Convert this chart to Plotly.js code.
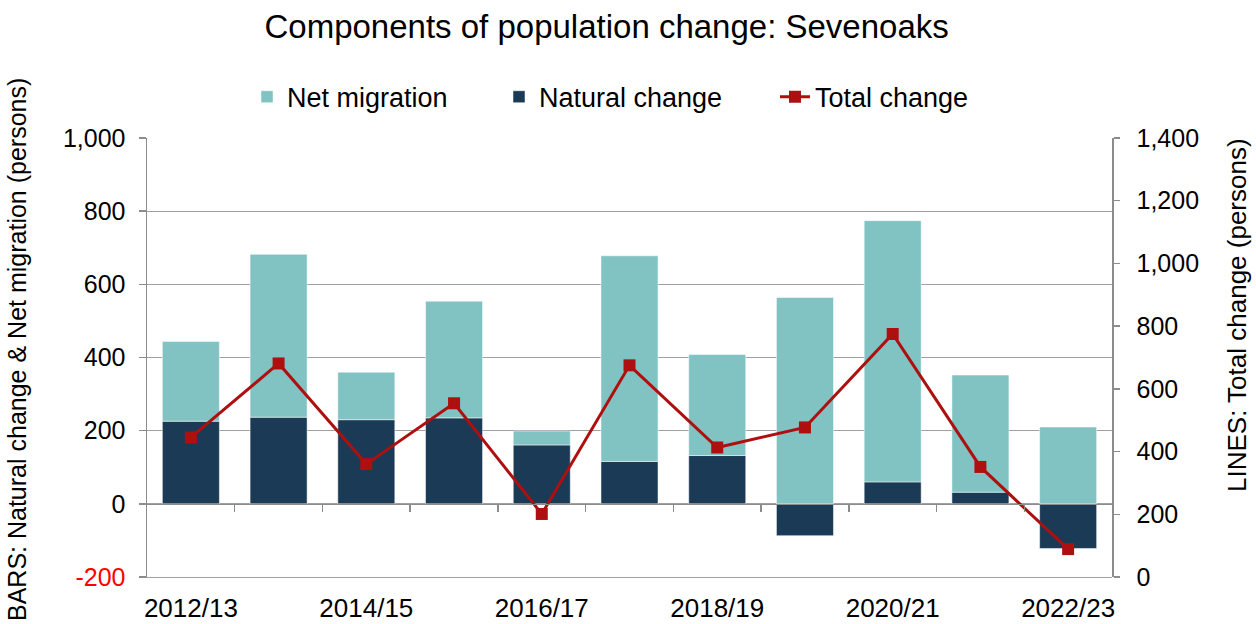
<!DOCTYPE html>
<html>
<head>
<meta charset="utf-8">
<script src="https://cdn.plot.ly/plotly-3.0.1.min.js"></script>
<style>html,body{margin:0;padding:0;background:#fff;}#chart{width:1256px;height:624px;}</style>
</head>
<body>
<div id="chart"></div>
<script>
const categories = ["2012/13","2013/14","2014/15","2015/16","2016/17","2017/18","2018/19","2019/20","2020/21","2021/22","2022/23"];
const naturalChange = [226, 237, 230, 235, 161, 116, 132, -87, 60, 32, -122];
const netMigration = [218, 445, 130, 319, 38, 562, 276, 564, 714, 320, 210];
const totalChange = [445, 681, 360, 554, 201, 675, 413, 477, 775, 351, 89];
const leftTicks = [-200, 0, 200, 400, 600, 800, 1000];
const rightTicks = [0, 200, 400, 600, 800, 1000, 1200, 1400];

const idx = categories.map((c, i) => i);
const labelIdx = idx.filter(i => i % 2 === 0);
const boundaries = idx.slice(1).map(i => i - 0.5);
const fmt = v => v.toLocaleString('en-US');
const leftText = leftTicks.map(v => v < 0 ? '<span style="fill:#ff0000">' + v + '</span>' : fmt(v));

const FONT = 'Liberation Sans, Arial, sans-serif';
const AXC = '#8c8c8c';
const PL = 147, PW = 965, PT = 138, PH = 439;
const px2x = p => (p - PL) / PW;
const py2y = p => (PT + PH - p) / PH;

const traces = [
  {type:'bar', name:'Natural change', x: idx, y: naturalChange, xaxis:'x', yaxis:'y', legend:'legend2',
   marker:{color:'#1a3a56', line:{color:'rgba(255,255,255,0.5)', width:1}}, hoverinfo:'y+name'},
  {type:'bar', name:'Net migration', x: idx, y: netMigration, xaxis:'x', yaxis:'y', legend:'legend',
   marker:{color:'#81c2c2', line:{color:'rgba(255,255,255,0.5)', width:1}}, hoverinfo:'y+name'},
  {type:'scatter', mode:'lines+markers', name:'Total change', x: idx, y: totalChange, xaxis:'x2', yaxis:'y2', legend:'legend3',
   line:{color:'#ae1010', width:3}, marker:{symbol:'square', size:12, color:'#ae1010'}}
];

const legBase = {orientation:'h', xanchor:'left', y:1.093, yanchor:'middle', font:{size:27, family:FONT},
                 bgcolor:'rgba(0,0,0,0)', borderwidth:0, itemwidth:30};

const layout = {
  width:1256, height:624,
  margin:{l:PL, r:144, t:PT, b:47},
  paper_bgcolor:'#fff', plot_bgcolor:'#fff',
  font:{family:FONT, color:'#000', size:25},
  title:{text:'Components of population change: Sevenoaks', x:0.483, xanchor:'center', y:0.958, yanchor:'middle',
         font:{family:FONT, size:33, color:'#000'}},
  barmode:'relative', bargap:0.35,
  showlegend:true,
  legend:Object.assign({}, legBase, {x:px2x(247)}),
  legend2:Object.assign({}, legBase, {x:px2x(499)}),
  legend3:Object.assign({}, legBase, {x:px2x(775)}),
  xaxis:{range:[-0.5, 10.5], tickmode:'array', tickvals: labelIdx, ticktext: labelIdx.map(i => categories[i]),
         ticks:'', showgrid:false, zeroline:false, showline:true, linecolor:'#a0a0a0', linewidth:1,
         tickfont:{size:26, family:FONT}, ticklabelstandoff:8, fixedrange:true},
  xaxis2:{overlaying:'x', anchor:'free', position: (0 - leftTicks[0]) / (leftTicks[leftTicks.length-1] - leftTicks[0]),
          range:[-0.5, 10.5], tickmode:'array', tickvals: boundaries, ticks:'outside', ticklen:7, tickcolor:AXC, tickwidth:1.5,
          showticklabels:false, showgrid:false, zeroline:false, showline:true, linecolor:AXC, linewidth:1.5},
  yaxis:{range:[leftTicks[0], leftTicks[leftTicks.length-1]], tickmode:'array', tickvals:leftTicks, ticktext:leftText,
         ticks:'outside', ticklen:7, tickcolor:AXC, tickwidth:1.5, showline:true, linecolor:AXC, linewidth:1.5,
         showgrid:true, gridcolor:'#a0a0a0', gridwidth:1.3, zeroline:false, ticklabelstandoff:8,
         tickfont:{size:25, family:FONT}},
  yaxis2:{overlaying:'y', side:'right', anchor:'free', position:1, range:[rightTicks[0], rightTicks[rightTicks.length-1]],
          tickmode:'array', tickvals:rightTicks, ticktext:rightTicks.map(fmt),
          ticks:'outside', ticklen:6, tickcolor:AXC, tickwidth:1.5, showline:true, linecolor:AXC, linewidth:1.5,
          showgrid:false, zeroline:false, ticklabelstandoff:12, tickfont:{size:25, family:FONT}},
  annotations:[
    {text:'BARS: Natural change & Net migration (persons)', textangle:-90, xref:'paper', yref:'paper',
     x:px2x(17), y:py2y(350), xanchor:'center', yanchor:'middle', showarrow:false, font:{size:25, family:FONT, color:'#000'}},
    {text:'LINES: Total change (persons)', textangle:-90, xref:'paper', yref:'paper',
     x:px2x(1237), y:py2y(315), xanchor:'center', yanchor:'middle', showarrow:false, font:{size:26, family:FONT, color:'#000'}}
  ]
};

Plotly.newPlot('chart', traces, layout, {displayModeBar:false, staticPlot:true});
</script>
</body>
</html>
